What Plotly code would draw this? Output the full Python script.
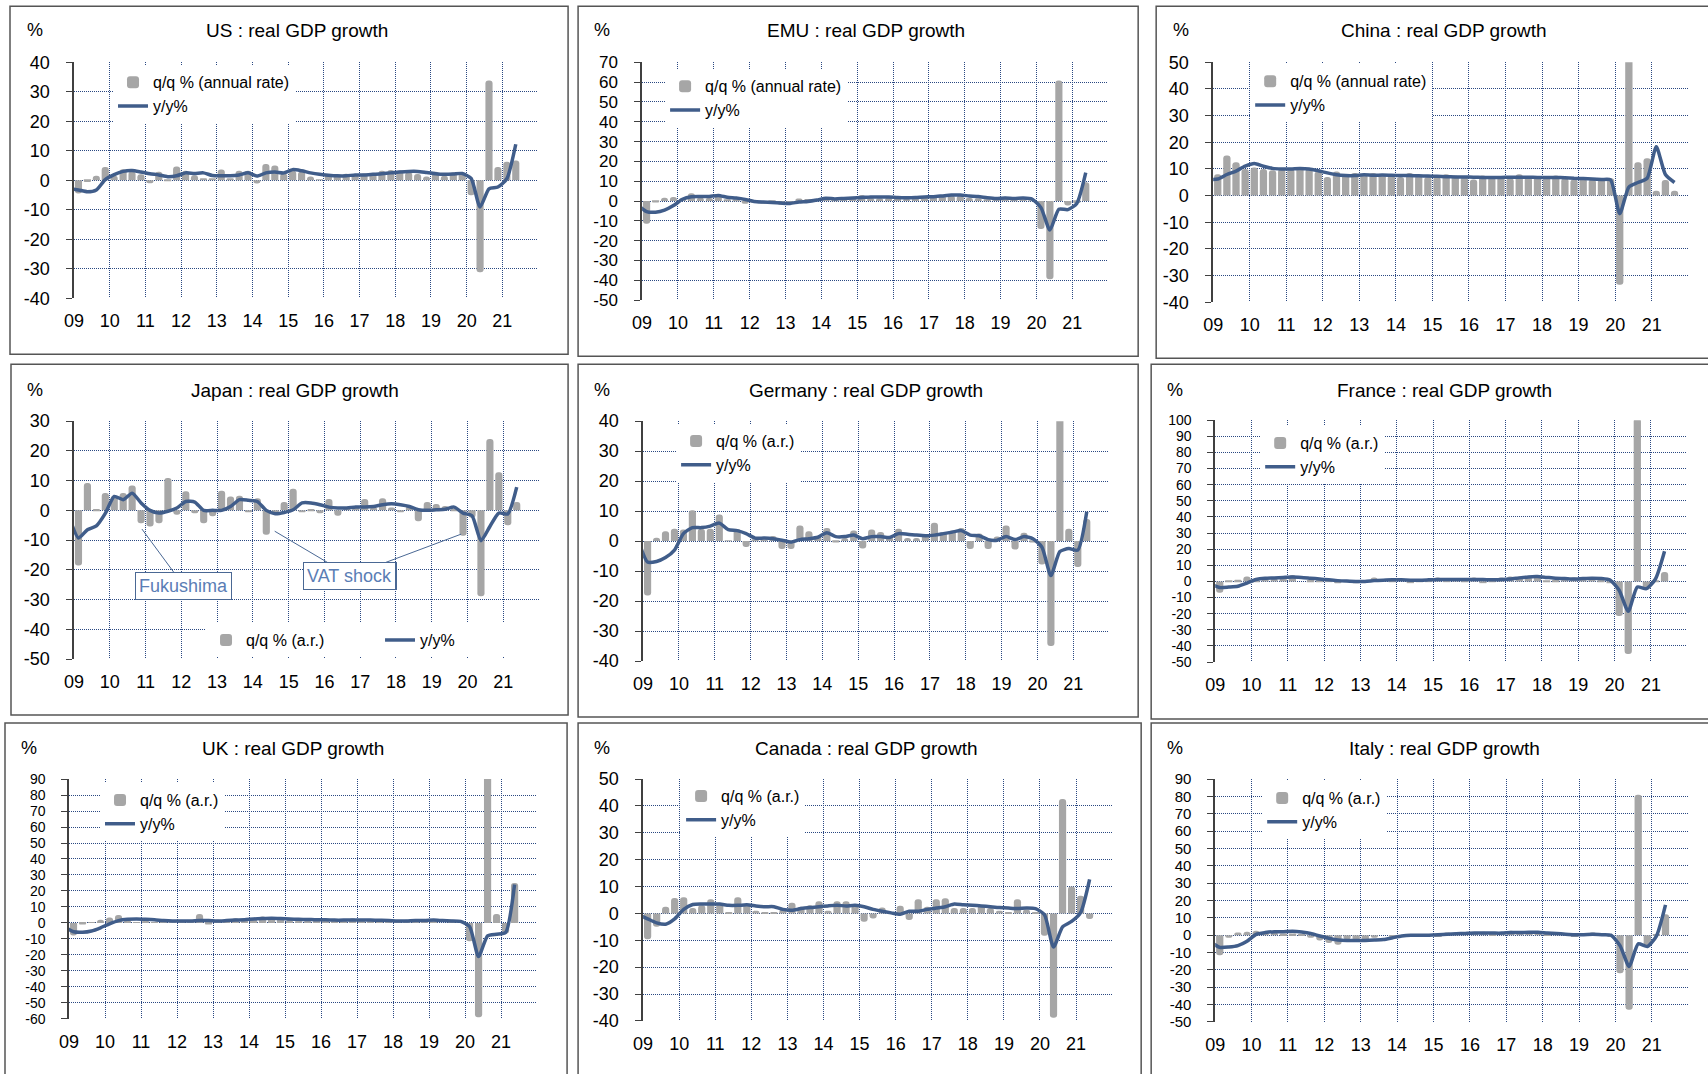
import plotly.graph_objects as go

# Figure size in page pixels (body margin is removed by the post script below).
W, H = 1708, 1090
# Measured mapping between page pixels and the photographed picture:
# picture = A + B * page  -> positions taken from the reference are converted back.
AX, BX = 9.0, 0.994
AY, BY = 8.7, 0.982
FONT = "Liberation Sans, Arial, sans-serif"
BAR_COLOR = "#a6a6a6"
LINE_COLOR = "#405d8a"
GRID_COLOR = "#2a4882"

# ---------------- data ----------------
year_ticks = list(range(2009, 2023))
year_labels = ["09", "10", "11", "12", "13", "14", "15", "16", "17", "18", "19", "20", "21"]

# q/q % annualised, 2009Q1 .. 2021Q2 (China to 2021Q3)
us_qq = [-4.5, -0.6, 1.5, 4.5,
         1.5, 3.7, 3.0, 2.0,
         -1.0, 2.9, -0.1, 4.7,
         3.2, 1.7, 0.5, 0.5,
         3.6, 0.5, 3.2, 3.2,
         -1.1, 5.5, 5.0, 2.3,
         3.2, 3.0, 1.3, 0.1,
         2.0, 1.9, 2.2, 2.0,
         2.3, 2.2, 3.2, 3.5,
         3.3, 2.7, 2.1, 1.3,
         2.9, 1.5, 2.6, 2.4,
         -5.1, -31.2, 33.8, 4.5,
         6.3, 6.7]
# y/y %, 2008Q4 .. 2021Q2 (China to 2021Q3)
us_yy = [-2.8,
         -3.3, -3.9, -3.3, 0.2,
         1.9, 3.0, 3.3, 2.8,
         2.2, 1.8, 1.2, 1.5,
         2.5, 2.3, 2.5, 1.6,
         1.5, 1.5, 1.8, 2.5,
         1.4, 2.5, 2.8, 2.5,
         3.6, 3.2, 2.5, 2.0,
         1.7, 1.5, 1.5, 1.8,
         1.8, 2.0, 2.2, 2.5,
         2.8, 3.0, 3.0, 2.6,
         2.2, 2.0, 2.1, 2.3,
         0.6, -9.1, -2.9, -2.3,
         0.5, 12.2]

emu_qq = [-11.5, -0.7, 1.7, 2.0,
          1.6, 3.9, 1.8, 1.5,
          3.2, 0.8, 0.4, -1.4,
          -0.8, -1.3, -0.6, -2.0,
          -1.5, 1.3, 1.0, 1.1,
          1.4, 0.6, 1.2, 1.6,
          3.0, 1.5, 1.4, 1.8,
          2.1, 1.2, 1.8, 2.6,
          2.7, 2.9, 2.9, 2.8,
          1.5, 1.4, 0.6, 1.8,
          2.2, 0.6, 1.2, 0.3,
          -14.1, -39.4, 60.8, -2.3,
          -1.0, 9.5]
emu_yy = [-2.0,
          -5.3, -5.6, -4.6, -2.3,
          0.9, 2.2, 2.3, 2.3,
          2.8, 1.9, 1.5, 0.8,
          -0.2, -0.5, -0.7, -1.0,
          -1.2, -0.5, -0.2, 0.5,
          1.4, 1.1, 1.3, 1.5,
          1.8, 2.1, 2.0, 2.1,
          1.8, 1.7, 1.8, 2.1,
          2.2, 2.6, 3.0, 3.0,
          2.6, 2.3, 1.7, 1.3,
          1.6, 1.3, 1.5, 1.0,
          -3.3, -14.6, -4.1, -4.3,
          -1.2, 14.3]

china_qq = [8.0, 15.0, 12.5, 10.0,
            10.5, 10.0, 9.5, 10.0,
            10.0, 10.5, 10.0, 9.0,
            7.0, 9.0, 8.0, 8.5,
            8.0, 8.5, 8.0, 7.5,
            7.0, 8.5, 7.5, 7.0,
            7.0, 8.0, 7.5, 7.0,
            6.0, 7.5, 7.0, 7.0,
            6.5, 8.0, 7.0, 7.0,
            7.0, 7.5, 6.5, 6.0,
            6.5, 6.0, 6.0, 6.5,
            -33.5, 55.0, 12.5, 14.0,
            1.8, 5.8, 1.8]
china_yy = [6.0,
            6.2, 7.9, 9.2, 11.0,
            12.0, 11.0, 10.2, 10.0,
            10.0, 10.2, 10.0, 9.3,
            8.5, 7.8, 7.5, 7.5,
            7.8, 7.6, 7.7, 7.6,
            7.5, 7.5, 7.4, 7.3,
            7.2, 7.1, 7.0, 7.0,
            6.9, 6.8, 6.8, 6.8,
            6.9, 6.9, 6.9, 6.8,
            6.8, 6.8, 6.7, 6.5,
            6.4, 6.2, 6.0, 5.9,
            -6.8, 3.2, 4.9, 6.5,
            18.3, 7.9, 4.9]

japan_qq = [-18.5, 9.2, 0.5, 5.8,
            4.9, 5.8, 8.4, -4.3,
            -5.4, -4.3, 10.9, -1.5,
            6.4, -1.0, -4.3, -2.0,
            6.6, 4.7, 4.9, -0.5,
            4.1, -8.2, -1.5, 2.8,
            7.3, -0.5, 0.5, -1.0,
            3.8, -1.8, 1.0, 1.5,
            3.8, 1.0, 4.1, 1.0,
            -0.5, 1.5, -3.7, 2.8,
            2.1, 1.5, 0.5, -8.5,
            -2.5, -28.9, 24.0, 12.8,
            -5.0, 2.8]
japan_yy = [-2.5,
            -9.3, -6.5, -5.2, -1.0,
            4.7, 3.6, 5.8, 2.5,
            0.0, -0.9, -0.3, 0.8,
            3.0, 2.8, 0.0, 0.0,
            0.0, 1.3, 3.6, 3.4,
            3.0, 0.0, -1.1, -0.7,
            0.2, 2.5, 2.5, 1.9,
            1.1, 0.8, 0.8, 1.1,
            1.1, 1.3, 1.9, 2.2,
            1.9, 1.3, 0.2, 0.0,
            0.2, 0.4, 1.1, -0.9,
            -1.8, -10.2, -5.4, -0.9,
            -1.2, 7.8]

germany_qq = [-18.1, 1.1, 3.3, 4.1,
              3.9, 10.3, 4.1, 4.1,
              8.9, 0.3, 4.0, -2.0,
              0.5, 0.5, 1.7, -2.6,
              -2.6, 5.2, 3.3, 1.7,
              4.4, -0.5, 1.0, 3.5,
              -2.5, 3.9, 3.0, 1.5,
              4.1, 1.0, 1.0, 2.0,
              6.1, 3.0, 3.5, 4.4,
              -2.6, 2.5, -2.6, 1.5,
              5.2, -2.8, 2.8, -0.5,
              -7.8, -35.0, 41.0, 4.1,
              -8.6, 7.4]
germany_yy = [0.0,
              -7.0, -6.8, -5.5, -3.0,
              2.5, 4.5, 4.5, 5.0,
              6.0, 3.8, 3.5, 2.5,
              1.0, 1.0, 0.8, 0.3,
              -0.3, 0.5, 0.8, 1.3,
              2.8, 1.5, 1.5, 2.0,
              0.8, 1.5, 1.5, 1.2,
              2.5, 2.3, 2.0, 1.8,
              2.0, 2.5, 3.0, 3.5,
              2.0, 1.8, 0.5, 0.3,
              1.5, 0.5, 1.5, 0.8,
              -2.0, -11.5, -3.5, -2.5,
              -3.0, 9.8]

france_qq = [-7.0, 0.5, 1.0, 3.0,
             1.0, 2.0, 2.0, 2.5,
             4.0, 0.0, 1.0, 1.0,
             0.5, -1.0, 0.5, -1.0,
             0.0, 2.5, 0.0, 1.0,
             0.0, -0.5, 1.0, 0.5,
             2.5, 0.5, 1.5, 1.0,
             2.5, -0.5, 1.0, 2.5,
             3.0, 3.0, 3.0, 3.5,
             0.5, 1.0, 1.5, 2.5,
             2.0, 1.5, 1.0, -0.5,
             -21.5, -45.0, 101.0, -5.2,
             0.3, 5.8]
france_yy = [-1.5,
             -3.8, -3.5, -3.0, -1.0,
             1.2, 2.0, 2.2, 2.5,
             2.8, 2.5, 2.0, 1.5,
             1.0, 0.5, 0.2, 0.0,
             0.0, 0.5, 0.8, 1.0,
             1.0, 0.8, 0.8, 1.0,
             1.2, 1.2, 1.2, 1.2,
             1.2, 1.2, 1.0, 1.2,
             1.5, 2.2, 2.8, 3.0,
             2.5, 2.0, 1.8, 1.5,
             1.8, 2.0, 1.8, 0.8,
             -5.5, -18.5, -3.5, -4.5,
             1.5, 18.7]

uk_qq = [-7.9, -1.0, 0.5, 2.0,
         3.5, 5.0, 2.0, 0.5,
         1.5, 0.5, 1.5, 0.5,
         0.5, 1.0, 5.6, -1.0,
         2.0, 2.5, 3.0, 2.0,
         3.0, 4.0, 3.0, 3.0,
         2.0, 2.0, 1.5, 2.5,
         1.0, 2.0, 2.0, 3.0,
         2.5, 1.5, 2.0, 2.0,
         0.5, 2.0, 2.5, 1.0,
         2.5, 0.0, 2.0, 0.5,
         -11.5, -59.0, 92.0, 5.6,
         -6.5, 25.0]
uk_yy = [-2.5,
         -5.5, -5.8, -5.0, -3.0,
         -0.5, 1.5, 2.3, 2.5,
         2.3, 2.0, 1.5, 1.2,
         1.2, 1.2, 1.5, 1.5,
         1.2, 1.5, 1.8, 2.0,
         2.5, 2.8, 3.0, 2.8,
         2.5, 2.3, 2.2, 2.0,
         2.0, 1.8, 1.8, 1.9,
         1.8, 1.8, 1.7, 1.6,
         1.2, 1.3, 1.6, 1.5,
         1.8, 1.5, 1.3, 1.0,
         -2.2, -21.0, -8.0, -7.0,
         -6.0, 24.0]

canada_qq = [-9.6, -5.0, 2.5, 5.7,
             6.0, 2.0, 3.0, 5.3,
             3.5, 0.5, 6.0, 3.5,
             1.0, 0.5, 0.5, 1.5,
             4.0, 2.5, 3.0, 4.5,
             1.0, 4.5, 4.5, 3.0,
             -3.1, -1.9, 2.2, 0.5,
             2.9, -2.4, 5.3, 2.5,
             5.3, 5.6, 2.0, 2.0,
             2.0, 3.0, 2.0, 1.0,
             0.5, 5.3, 1.5, 0.5,
             -8.3, -38.8, 42.6, 10.0,
             6.6, -2.1]
canada_yy = [-0.5,
             -2.0, -3.5, -4.0, -2.0,
             1.5, 3.3, 3.5, 3.5,
             3.5, 3.0, 3.0, 3.2,
             2.8, 2.5, 2.5, 1.5,
             1.2, 1.8, 2.2, 2.5,
             2.8, 3.0, 2.8, 3.0,
             2.5, 1.5, 0.8, 0.2,
             -0.3, 0.8, 0.8, 1.5,
             2.0, 2.5, 3.5, 3.2,
             3.0, 2.8, 2.5, 2.2,
             2.0, 1.8, 2.0, 1.8,
             -0.5, -12.5, -5.0, -3.0,
             0.3, 12.7]

italy_qq = [-11.5, -1.5, 1.5, 2.0,
            2.5, 2.0, 1.5, 1.0,
            1.0, 0.5, -1.5, -3.0,
            -4.5, -5.5, -2.5, -3.5,
            -3.5, -1.5, 0.0, -1.0,
            0.0, 0.5, 0.0, 0.0,
            -0.5, 1.5, 1.5, 1.5,
            1.5, 2.0, 1.0, 1.5,
            2.5, 1.5, 2.0, 2.0,
            1.0, 1.5, 0.0, -0.5,
            0.5, 1.5, 0.5, -1.0,
            -22.0, -43.0, 81.0, -6.7,
            0.5, 12.0]
italy_yy = [-4.0,
            -7.0, -6.8, -6.0, -3.5,
            0.5, 1.5, 2.0, 2.0,
            2.2, 1.8, 1.0, -0.5,
            -1.8, -2.8, -3.0, -3.0,
            -3.0, -2.8, -2.5, -1.5,
            -0.5, 0.0, 0.0, 0.0,
            0.2, 0.5, 0.8, 1.0,
            1.2, 1.2, 1.2, 1.2,
            1.5, 1.5, 1.7, 1.7,
            1.3, 1.0, 0.6, 0.3,
            0.3, 0.5, 0.3, 0.0,
            -6.0, -18.0, -5.0, -6.5,
            -0.5, 17.5]

QQ_LONG = "q/q % (annual rate)"
QQ_SHORT = "q/q % (a.r.)"
YY_NAME = "y/y%"

# ---------------- layout of the nine panels (pixel geometry as seen in the reference) ----------------
panels = [
    dict(title="US : real GDP growth", qq=us_qq, yy=us_yy, yr=(-40, 40), qqname=QQ_LONG, yfont=18,
         plot=(73, 61, 537, 297), box=(9, 5, 567, 353), tx=296, ty=29, px=34, leg=(156, 82)),
    dict(title="EMU : real GDP growth", qq=emu_qq, yy=emu_yy, yr=(-50, 70), qqname=QQ_LONG, yfont=17,
         plot=(641, 61, 1107, 299), box=(577, 5, 1137, 355), tx=865, ty=29, px=601, leg=(708, 86)),
    dict(title="China : real GDP growth", qq=china_qq, yy=china_yy, yr=(-40, 50), qqname=QQ_LONG, yfont=18,
         plot=(1212, 61, 1687, 301), box=(1155, 5, 1730, 357), tx=1443, ty=29, px=1180, leg=(1293, 81)),
    dict(title="Japan : real GDP growth", qq=japan_qq, yy=japan_yy, yr=(-50, 30), qqname=QQ_SHORT, yfont=18,
         plot=(73, 420, 538, 658), box=(10, 363, 567, 714), tx=294, ty=389, px=34, leg=None),
    dict(title="Germany : real GDP growth", qq=germany_qq, yy=germany_yy, yr=(-40, 40), qqname=QQ_SHORT, yfont=18,
         plot=(642, 420, 1108, 660), box=(577, 363, 1137, 716), tx=865, ty=389, px=601, leg=(719, 441)),
    dict(title="France : real GDP growth", qq=france_qq, yy=france_yy, yr=(-50, 100), qqname=QQ_SHORT, yfont=14,
         plot=(1214, 419, 1686, 661), box=(1150, 363, 1730, 718), tx=1443, ty=389, px=1174, leg=(1303, 443)),
    dict(title="UK : real GDP growth", qq=uk_qq, yy=uk_yy, yr=(-60, 90), qqname=QQ_SHORT, yfont=14,
         plot=(68, 778, 536, 1018), box=(4, 722, 566, 1100), tx=292, ty=747, px=28, leg=(143, 800)),
    dict(title="Canada : real GDP growth", qq=canada_qq, yy=canada_yy, yr=(-40, 50), qqname=QQ_SHORT, yfont=18,
         plot=(642, 778, 1111, 1020), box=(577, 722, 1140, 1100), tx=865, ty=747, px=601, leg=(724, 796)),
    dict(title="Italy : real GDP growth", qq=italy_qq, yy=italy_yy, yr=(-50, 90), qqname=QQ_SHORT, yfont=15,
         plot=(1214, 778, 1687, 1021), box=(1150, 722, 1730, 1100), tx=1443, ty=747, px=1174, leg=(1305, 798)),
]


def fx(p):
    return ((p - AX) / BX) / W


def fy(p):
    return 1 - ((p - AY) / BY) / H


fig = go.Figure()
layout = dict(
    width=W, height=H, autosize=False,
    margin=dict(l=0, r=0, t=0, b=0),
    paper_bgcolor="white", plot_bgcolor="white",
    font=dict(family=FONT, color="black", size=16),
    showlegend=True, hovermode=False,
)
annotations = []
shapes = []
n = len(panels)

for i, p in enumerate(panels, start=1):
    sfx = "" if i == 1 else str(i)
    xa, ya = "x" + sfx, "y" + sfx
    leg_id = "legend" + sfx
    x0, y0, x1, y1 = p["plot"]
    ymin, ymax = p["yr"]

    bar_x = [2009 + k * 0.25 + 0.125 for k in range(len(p["qq"]))]
    line_x = [2008.75 + k * 0.25 + 0.125 for k in range(len(p["yy"]))]

    fig.add_trace(go.Bar(
        x=bar_x, y=p["qq"], width=0.2, name=p["qqname"],
        marker=dict(color=BAR_COLOR, line=dict(width=0), cornerradius=3),
        xaxis=xa, yaxis=ya, legend=leg_id,
    ))
    fig.add_trace(go.Scatter(
        x=line_x, y=p["yy"], mode="lines", name=YY_NAME,
        line=dict(color=LINE_COLOR, width=3.5, shape="spline", smoothing=0.6),
        xaxis=xa, yaxis=ya, legend=leg_id,
    ))

    ytick_vals = list(range(ymin, ymax + 1, 10))
    dom_y = [fy(y1), fy(y0)]
    layout["xaxis" + sfx] = dict(
        domain=[fx(x0), fx(x1)], anchor=ya, range=[2009, 2022],
        tickmode="array", tickvals=year_ticks, ticktext=year_labels + [""],
        showgrid=True, gridcolor=GRID_COLOR, gridwidth=1, griddash="1px,1px",
        zeroline=False, showline=False, ticks="",
        tickfont=dict(size=18, family=FONT, color="black"), ticklabelstandoff=10,
        fixedrange=True,
    )
    layout["yaxis" + sfx] = dict(
        domain=dom_y, anchor=xa, range=[ymin, ymax],
        tickmode="array", tickvals=ytick_vals, ticktext=[str(v) for v in ytick_vals],
        showgrid=True, gridcolor=GRID_COLOR, gridwidth=1, griddash="1px,1px",
        zeroline=False,
        showline=True, linecolor="#404040", linewidth=1.5,
        ticks="outside", ticklen=6, tickcolor="#404040",
        tickfont=dict(size=p["yfont"], family=FONT, color="black"), ticklabelstandoff=13,
        fixedrange=True,
    )
    # horizontal axis crossing at zero (black line with half-year tick marks, above the bars)
    zero_pos = dom_y[0] + (0 - ymin) / (ymax - ymin) * (dom_y[1] - dom_y[0])
    layout["xaxis" + str(n + i)] = dict(
        domain=[fx(x0), fx(x1)], overlaying=xa, anchor="free", position=zero_pos,
        range=[2009, 2022], tickmode="linear", tick0=2009, dtick=0.5,
        ticks="outside", ticklen=5, tickwidth=1, tickcolor="black",
        showticklabels=False, showgrid=False, zeroline=False,
        showline=True, linecolor="black", linewidth=1.5, layer="above traces",
        fixedrange=True,
    )

    if p["leg"] is not None:
        lx, ly = p["leg"]
        layout[leg_id] = dict(
            x=fx(lx - 44), y=fy(ly - 18), xanchor="left", yanchor="top",
            bgcolor="white", borderwidth=0, tracegroupgap=0,
            font=dict(size=16, family=FONT, color="black"),
            traceorder="normal", orientation="v",
        )
    else:
        layout[leg_id] = dict(
            x=fx(249 - 44), y=fy(640 - 18), xanchor="left", yanchor="top",
            bgcolor="white", borderwidth=0,
            font=dict(size=16, family=FONT, color="black"),
            traceorder="normal", orientation="h", entrywidth=129, entrywidthmode="pixels",
        )

    annotations.append(dict(
        text=p["title"], x=fx(p["tx"]), y=fy(p["ty"]), xref="paper", yref="paper",
        xanchor="center", yanchor="middle", showarrow=False,
        font=dict(size=19, family=FONT, color="black"),
    ))
    annotations.append(dict(
        text="%", x=fx(p["px"]), y=fy(p["ty"]), xref="paper", yref="paper",
        xanchor="center", yanchor="middle", showarrow=False,
        font=dict(size=18, family=FONT, color="black"),
    ))
    bx0, by0, bx1, by1 = p["box"]
    shapes.append(dict(
        type="rect", xref="paper", yref="paper",
        x0=fx(bx0), x1=fx(bx1), y0=fy(by1), y1=fy(by0),
        line=dict(color="#555555", width=1.5), fillcolor="rgba(0,0,0,0)", layer="above",
    ))

# Japan call-outs
CALLOUT_FONT = dict(size=18, family=FONT, color="#5a7db5")
callout_style = dict(
    xref="x4", yref="y4", axref="pixel", ayref="pixel", showarrow=True,
    arrowhead=0, arrowwidth=1, arrowcolor="#4a6894",
    bgcolor="white", bordercolor="#4a6894", borderwidth=1, borderpad=3,
    font=CALLOUT_FONT,
)
annotations.append(dict(text="Fukushima", x=2010.90, y=-6.3, ax=42, ay=57, **callout_style))
annotations.append(dict(text="VAT shock", x=2014.61, y=-7.0, ax=76, ay=45, **callout_style))
annotations.append(dict(text="VAT shock", x=2019.82, y=-8.0, ax=-112, ay=42, **callout_style))

layout["annotations"] = annotations
layout["shapes"] = shapes
fig.update_layout(**layout)

fig.write_html(
    "out.html",
    config={"displayModeBar": False},
    post_script="document.body.style.margin='0px';document.body.style.overflow='hidden';",
)
